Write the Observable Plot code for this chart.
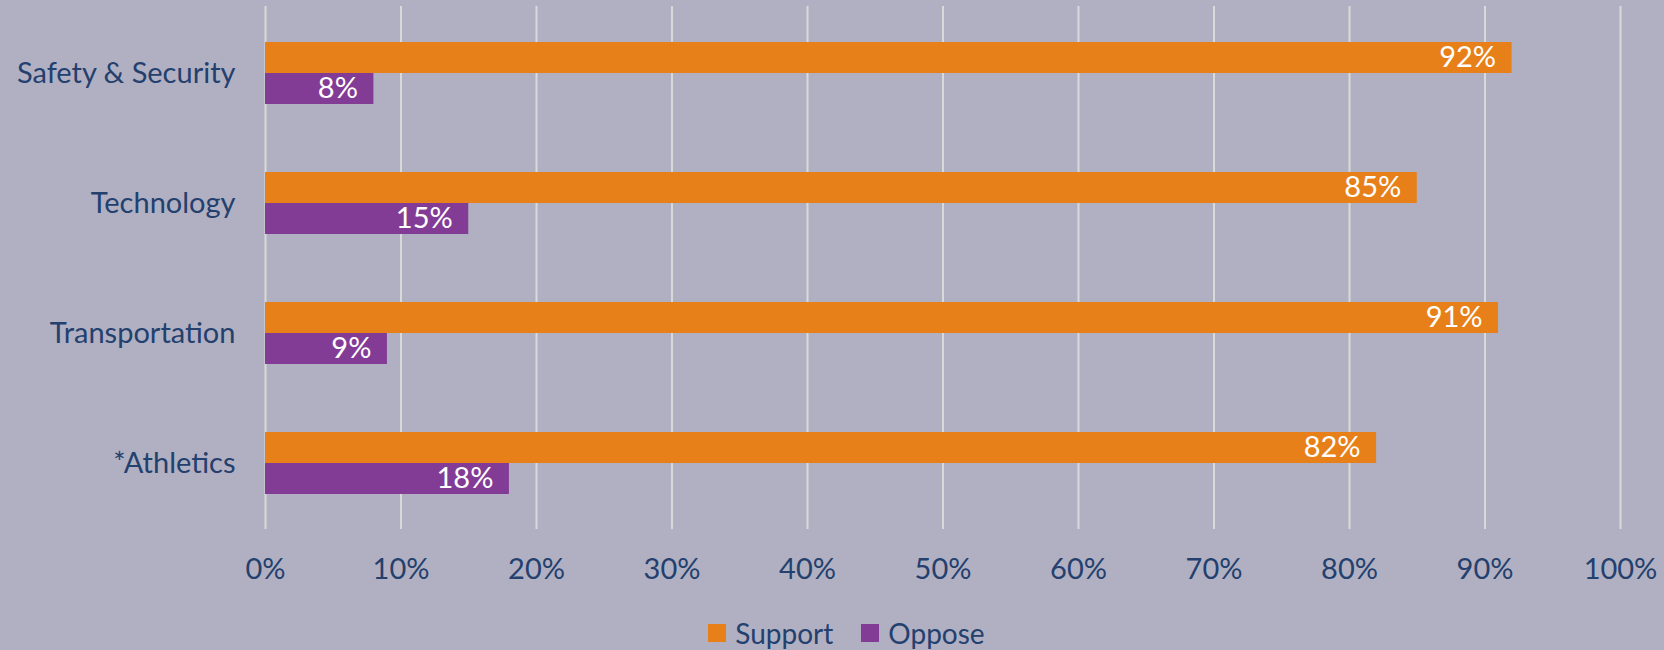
<!DOCTYPE html>
<html>
<head>
<meta charset="utf-8">
<script src="https://cdn.jsdelivr.net/npm/d3@7"></script>
<script src="https://cdn.jsdelivr.net/npm/@observablehq/plot@0.6"></script>
<style>
  html, body { margin: 0; padding: 0; background: #B1B0C2; width: 1664px; height: 650px; overflow: hidden; }
  #chart svg { display: block; }
  #legend { display: flex; justify-content: center; align-items: center; height: 50px; padding-left: 29px;
            font-family: Lato, "Noto Sans", sans-serif; font-size: 28px; color: #23406E; margin-top: 8px; }
  .item { display: flex; align-items: center; margin: 0 14px; }
  .sw { width: 18px; height: 18px; margin-right: 9px; display: inline-block; }
</style>
</head>
<body>
<div id="chart"></div>
<div id="legend"></div>
<script>
const categories = ["Safety & Security", "Technology", "Transportation", "*Athletics"];
const support = [92, 85, 91, 82];
const oppose = [8, 15, 9, 18];
const seriesNames = ["Support", "Oppose"];
const seriesColors = ["#E8801A", "#833C96"];
const xTicks = [0, 10, 20, 30, 40, 50, 60, 70, 80, 90, 100];

const supportData = categories.map((c, i) => ({category: c, value: support[i]}));
const opposeData = categories.map((c, i) => ({category: c, value: oppose[i]}));

const textColor = "#23406E";
const font = "Lato, 'Noto Sans', sans-serif";

const chart = Plot.plot({
  width: 1664,
  height: 600,
  marginLeft: 265,
  marginRight: 44,
  marginTop: 6,
  marginBottom: 71,
  style: {background: "transparent", fontFamily: font, fontSize: "29px", color: textColor},
  x: {domain: [0, 100], ticks: xTicks, tickFormat: d => d + "%", label: null},
  y: {domain: categories, paddingInner: 0.525, paddingOuter: 0.2676, label: null},
  marks: [
    Plot.ruleX(xTicks, {stroke: "#D9D9D9", strokeWidth: 2, strokeOpacity: 1}),
    Plot.barX(supportData, {x: "value", y: "category", fill: seriesColors[0], insetBottom: 31}),
    Plot.barX(opposeData, {x: "value", y: "category", fill: seriesColors[1], insetTop: 31}),
    Plot.text(supportData, {x: "value", y: "category", text: d => d.value + "%", textAnchor: "end", dx: -16, dy: -15.5, fill: "white", fontSize: 29}),
    Plot.text(opposeData, {x: "value", y: "category", text: d => d.value + "%", textAnchor: "end", dx: -16, dy: 15.5, fill: "white", fontSize: 29}),
    Plot.axisX({ticks: xTicks, tickFormat: d => d + "%", tickSize: 0, tickPadding: 29, fill: textColor, fontSize: 29}),
    Plot.axisY({tickSize: 0, tickPadding: 30, fill: textColor, fontSize: 29})
  ]
});
document.getElementById("chart").appendChild(chart);

const legend = document.getElementById("legend");
seriesNames.forEach((name, i) => {
  const item = document.createElement("span");
  item.className = "item";
  const sw = document.createElement("span");
  sw.className = "sw";
  sw.style.background = seriesColors[i];
  item.appendChild(sw);
  item.appendChild(document.createTextNode(name));
  legend.appendChild(item);
});
</script>
</body>
</html>
